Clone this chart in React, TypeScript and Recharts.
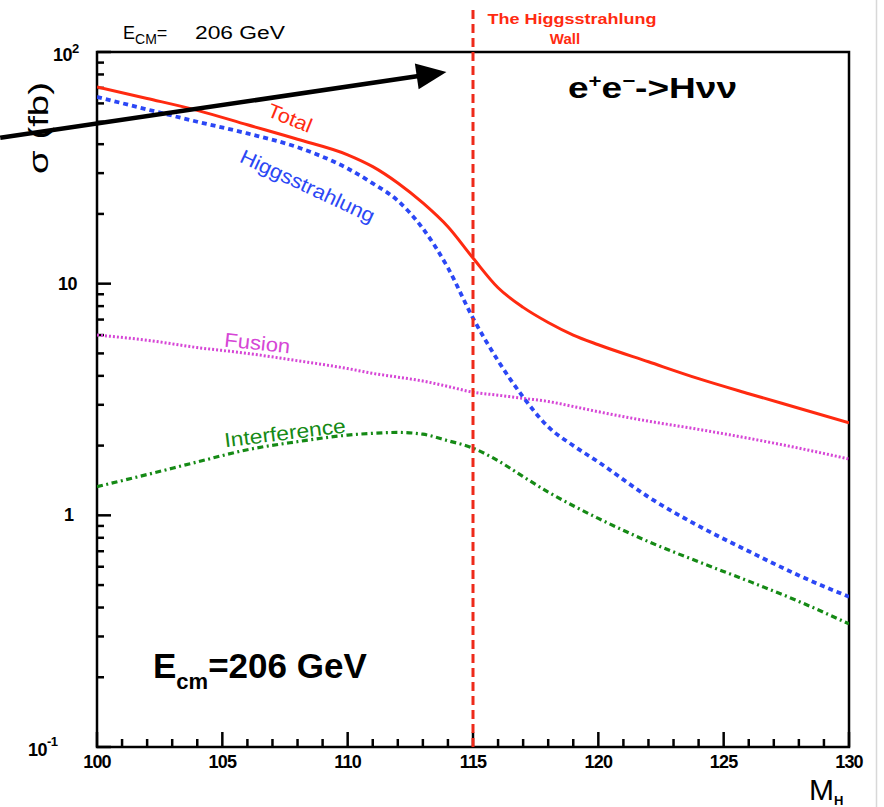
import React from 'react';
import { LineChart, Line, XAxis, YAxis, ReferenceLine, ReferenceArea, ReferenceDot } from 'recharts';

// ---- data ----
const massGeV = [100, 102, 104, 106, 108, 110, 111, 112, 113, 114, 115, 116, 117, 118, 119, 120, 122, 124, 126, 128, 130];
const totalXS = [70.6, 63, 56, 48.5, 42, 36, 32, 27.2, 22.3, 17.6, 12.9, 9.6, 7.9, 6.8, 6.0, 5.45, 4.6, 3.89, 3.35, 2.9, 2.51];
const higgsstrahlungXS = [64, 56.5, 50, 44.5, 38.8, 31.4, 27.1, 22.8, 17.3, 11.7, 7.1, 4.65, 3.24, 2.41, 2.0, 1.7, 1.2, 0.9, 0.7, 0.55, 0.445];
const fusionXS = [6.0, 5.7, 5.3, 5.0, 4.65, 4.3, 4.1, 3.95, 3.8, 3.6, 3.4, 3.3, 3.2, 3.1, 2.95, 2.8, 2.55, 2.35, 2.15, 1.95, 1.75];
const interferenceXS = [1.33, 1.5, 1.7, 1.92, 2.08, 2.22, 2.26, 2.28, 2.24, 2.1, 1.95, 1.72, 1.47, 1.26, 1.1, 0.97, 0.77, 0.63, 0.52, 0.425, 0.34];

const xTicks = [100, 101, 102, 103, 104, 105, 106, 107, 108, 109, 110, 111, 112, 113, 114, 115, 116, 117, 118, 119, 120, 121, 122, 123, 124, 125, 126, 127, 128, 129, 130];
const xMajorTicks = [100, 105, 110, 115, 120, 125, 130];
const yTicks = [0.1, 0.2, 0.3, 0.4, 0.5, 0.6, 0.7, 0.8, 0.9, 1, 2, 3, 4, 5, 6, 7, 8, 9, 10, 20, 30, 40, 50, 60, 70, 80, 90, 100];
const yDecades = [0.1, 1, 10, 100];

const xMin = 100;
const xMax = 130;
const yMin = 0.1;
const yMax = 100;
const wallMass = 115;
const wallTop = 155;
const arrowStart = { x: 96.14, y: 42.6 };
const arrowEnd = { x: 113.94, y: 82 };

const data = massGeV.map((m, i) => ({
  m,
  total: totalXS[i],
  hs: higgsstrahlungXS[i],
  fusion: fusionXS[i],
  interf: interferenceXS[i],
}));

const FONT = '"Liberation Sans", Arial, Helvetica, sans-serif';
const RED = '#ff2a10';
const BLUE = '#2b47f5';
const MAGENTA = '#d646d6';
const GREEN = '#158a15';

const isDecade = (v: number) => yDecades.some((d) => Math.abs(d - v) < 1e-9);

const XTick = (props: any) => {
  const { x, y, payload } = props;
  const v = payload.value;
  if (!xMajorTicks.includes(v)) return <g />;
  return (
    <text x={x} y={y + 21} textAnchor="middle" fontFamily={FONT} fontWeight="bold" fontSize={18} fill="#000" letterSpacing={-0.8}>
      {v}
    </text>
  );
};

const YTick = (props: any) => {
  const { y, payload } = props;
  const v = payload.value;
  if (Math.abs(v - 100) < 1e-9) {
    return (
      <text x={53} y={y + 9} fontFamily={FONT} fontWeight="bold" fontSize={18} fill="#000" letterSpacing={-0.5}>
        10<tspan dy={-8} fontSize={13}>2</tspan>
      </text>
    );
  }
  if (Math.abs(v - 10) < 1e-9) {
    return (
      <text x={77} y={y + 6} textAnchor="end" fontFamily={FONT} fontWeight="bold" fontSize={18} fill="#000" letterSpacing={-0.5}>
        10
      </text>
    );
  }
  if (Math.abs(v - 1) < 1e-9) {
    return (
      <text x={74} y={y + 6} textAnchor="end" fontFamily={FONT} fontWeight="bold" fontSize={18} fill="#000">
        1
      </text>
    );
  }
  if (Math.abs(v - 0.1) < 1e-9) {
    return (
      <text x={28} y={y + 9} fontFamily={FONT} fontWeight="bold" fontSize={18} fill="#000" letterSpacing={-0.5}>
        10<tspan dy={-10} fontSize={13}>-1</tspan>
      </text>
    );
  }
  return <g />;
};

// Frame of the plot area with inward ROOT-style ticks, placed inside the box Recharts computes for the ReferenceArea
const FrameShape = (p: any) => {
  const { x, y, width, height } = p;
  if ([x, y, width, height].some((n) => typeof n !== 'number' || isNaN(n))) return null;
  const bottom = y + height;
  const lx = (v: number) => x + ((v - xMin) / (xMax - xMin)) * width;
  const ly = (v: number) => bottom - ((Math.log10(v) - Math.log10(yMin)) / (Math.log10(yMax) - Math.log10(yMin))) * height;
  return (
    <g>
      {xTicks.map((v) => (
        <line key={`xt${v}`} x1={lx(v)} y1={bottom} x2={lx(v)} y2={bottom - (xMajorTicks.includes(v) ? 15 : 8)} stroke="#000" strokeWidth={2.5} />
      ))}
      {yTicks.map((v) => (
        <line key={`yt${v}`} x1={x} y1={ly(v)} x2={x + (isDecade(v) ? 14 : 7)} y2={ly(v)} stroke="#000" strokeWidth={2.5} />
      ))}
      <rect x={x} y={y} width={width} height={height} fill="none" stroke="#000" strokeWidth={2.5} />
    </g>
  );
};

const ArrowShape = (p: any) => {
  const { x1, y1, x2, y2 } = p;
  if ([x1, y1, x2, y2].some((n) => typeof n !== 'number' || isNaN(n))) return null;
  const ang = Math.atan2(y2 - y1, x2 - x1);
  const L = 30;
  const W = 13;
  const bx = x2 - L * Math.cos(ang);
  const by = y2 - L * Math.sin(ang);
  const px = -Math.sin(ang) * W;
  const py = Math.cos(ang) * W;
  return (
    <g>
      <line x1={x1} y1={y1} x2={bx + 2 * Math.cos(ang)} y2={by + 2 * Math.sin(ang)} stroke="#000" strokeWidth={4.5} />
      <polygon points={`${x2},${y2} ${bx + px},${by + py} ${bx - px},${by - py}`} fill="#000" />
    </g>
  );
};

const makeLabel = (text: string, color: string, angle: number, size: number, length: number) => (props: any) => {
  const { cx, cy } = props;
  if (typeof cx !== 'number' || typeof cy !== 'number') return null;
  return (
    <text
      x={cx}
      y={cy}
      fill={color}
      fontSize={size}
      fontFamily={FONT}
      textAnchor="middle"
      dominantBaseline="central"
      textLength={length}
      lengthAdjust="spacingAndGlyphs"
      transform={`rotate(${angle} ${cx} ${cy})`}
    >
      {text}
    </text>
  );
};

export default function App() {
  return (
    <div style={{ position: 'absolute', left: 0, top: 0, width: 884, height: 807, background: '#fff' }}>
      <LineChart
        width={884}
        height={807}
        data={data}
        margin={{ top: 52, right: 35, left: 37, bottom: 20 }}
      >
        <XAxis
          dataKey="m"
          type="number"
          domain={[xMin, xMax]}
          ticks={xTicks}
          interval={0}
          allowDataOverflow
          axisLine={false}
          tickLine={false}
          tickSize={0}
          tickMargin={0}
          height={40}
          tick={<XTick />}
        />
        <YAxis
          type="number"
          scale="log"
          domain={[yMin, yMax]}
          ticks={yTicks}
          interval={0}
          allowDataOverflow
          axisLine={false}
          tickLine={false}
          tickSize={0}
          tickMargin={0}
          width={60}
          tick={<YTick />}
        />
        <Line dataKey="fusion" type="monotone" stroke={MAGENTA} strokeWidth={3} strokeDasharray="2 2" dot={false} isAnimationActive={false} />
        <Line dataKey="interf" type="monotone" stroke={GREEN} strokeWidth={3.2} strokeDasharray="6 3.5 2 3.5" dot={false} isAnimationActive={false} />
        <Line dataKey="hs" type="monotone" stroke={BLUE} strokeWidth={3.8} strokeDasharray="5 4" dot={false} isAnimationActive={false} />
        <Line dataKey="total" type="monotone" stroke={RED} strokeWidth={3} dot={false} isAnimationActive={false} />
        <ReferenceLine
          segment={[{ x: wallMass, y: yMin }, { x: wallMass, y: wallTop }]}
          stroke="#ee2a1a"
          strokeWidth={3}
          strokeDasharray="9 5"
          ifOverflow="visible"
        />
        <ReferenceArea x1={xMin} x2={xMax} y1={yMin} y2={yMax} ifOverflow="visible" shape={FrameShape} />
        <ReferenceDot x={107.7} y={51.9} r={0} ifOverflow="visible" shape={makeLabel('Total', RED, 22, 20, 46)} />
        <ReferenceDot x={108.4} y={26.4} r={0} ifOverflow="visible" shape={makeLabel('Higgsstrahlung', BLUE, 25, 20, 146)} />
        <ReferenceDot x={106.4} y={5.55} r={0} ifOverflow="visible" shape={makeLabel('Fusion', MAGENTA, 6, 20, 66)} />
        <ReferenceDot x={107.5} y={2.27} r={0} ifOverflow="visible" shape={makeLabel('Interference', GREEN, -7, 20, 122)} />
        <ReferenceLine segment={[arrowStart, arrowEnd]} ifOverflow="visible" shape={ArrowShape} />
      </LineChart>
      <svg width={884} height={807} style={{ position: 'absolute', left: 0, top: 0, pointerEvents: 'none' }}>
        <line x1={876.5} y1={0} x2={876.5} y2={807} stroke="#d8d8d8" strokeWidth={1.5} />
        <text x={123} y={39} fontFamily={FONT} fontSize={18} fill="#000">
          E<tspan dy={5} fontSize={14}>CM</tspan>
          <tspan dy={-5}>=</tspan>
        </text>
        <text x={195} y={39} fontFamily={FONT} fontSize={18} fill="#000" textLength={90} lengthAdjust="spacingAndGlyphs">
          206 GeV
        </text>
        <text x={572} y={24} textAnchor="middle" fontFamily={FONT} fontWeight="bold" fontSize={15} fill={RED} textLength={169} lengthAdjust="spacingAndGlyphs">
          The Higgsstrahlung
        </text>
        <text x={565} y={44} textAnchor="middle" fontFamily={FONT} fontWeight="bold" fontSize={15} fill={RED}>
          Wall
        </text>
        <text x={568} y={98} fontFamily={FONT} fontWeight="bold" fontSize={30} fill="#000" textLength={169} lengthAdjust="spacingAndGlyphs">
          e<tspan dy={-11} fontSize={18}>+</tspan>
          <tspan dy={11}>e</tspan>
          <tspan dy={-11} fontSize={18}>−</tspan>
          <tspan dy={11}>-&gt;Hνν</tspan>
        </text>
        <text x={153} y={678} fontFamily={FONT} fontWeight="bold" fontSize={35} fill="#000">
          E<tspan dy={11} fontSize={22}>cm</tspan>
          <tspan dy={-11}>=206 GeV</tspan>
        </text>
        <text
          x={48}
          y={128}
          textAnchor="middle"
          fontFamily={FONT}
          fontSize={27}
          fill="#000"
          textLength={92}
          lengthAdjust="spacingAndGlyphs"
          transform="rotate(-90 48 128)"
        >
          σ (fb)
        </text>
        <text x={809} y={800} fontFamily={FONT} fontSize={30} fill="#000">
          M<tspan dy={5} fontSize={13} fontWeight="bold">H</tspan>
        </text>
      </svg>
    </div>
  );
}
